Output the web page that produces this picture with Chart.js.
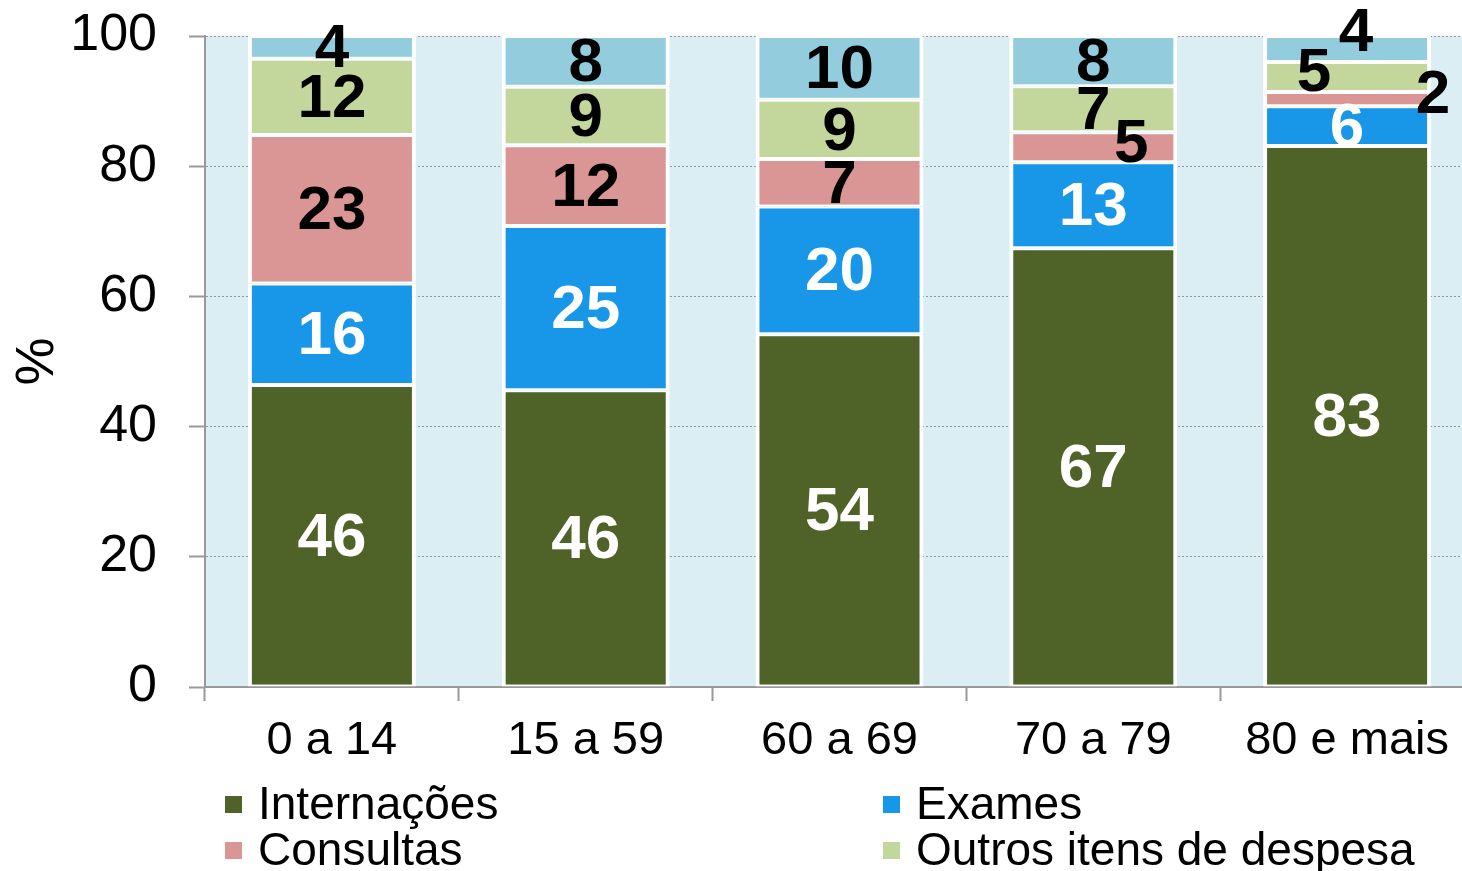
<!DOCTYPE html>
<html lang="pt">
<head>
<meta charset="utf-8">
<title>Despesa por faixa etária</title>
<script src="https://cdn.jsdelivr.net/npm/chart.js@4.4.1/dist/chart.umd.min.js"></script>
<style>
    html, body { margin: 0; padding: 0; background: #fff; overflow: hidden; }
    #wrap { position: relative; width: 1476px; height: 871px; }
</style>
</head>
<body>
<div id="wrap"><canvas id="despesaChart"></canvas></div>
<script>
// Data (percent of expense, each bar sums to 100)
const categories = ['0 a 14', '15 a 59', '60 a 69', '70 a 79', '80 e mais'];
const internacoes = [46.4, 45.6, 54.2, 67.4, 83.1];
const exames = [15.6, 25.2, 19.6, 13.2, 6.1];
const consultas = [22.8, 12.4, 7.3, 4.6, 2.2];
const outrosItens = [11.7, 9.0, 9.1, 7.1, 4.6];
const demais = [3.5, 7.8, 9.8, 7.7, 4.0];
const yTicks = [0, 20, 40, 60, 80, 100];

const FONT = '"Liberation Sans", Arial, sans-serif';

// small nudges for labels that sit beside thin segments
const labelNudge = {
    '2-3': { dx: 38, dy: -5 },
    '2-4': { dx: 86, dy: -6 },
    '3-4': { dx: -33, dy: -6 },
    '4-4': { dx: 9, dy: -18 }
};

const plotBackground = {
    id: 'plotBackground',
    beforeDraw(chart) {
        const { ctx, chartArea: a } = chart;
        ctx.save();
        ctx.fillStyle = '#DAEEF3';
        ctx.fillRect(a.left, a.top, a.right - a.left, a.bottom - a.top);
        ctx.restore();
    }
};

const barLabels = {
    id: 'barLabels',
    afterDatasetsDraw(chart) {
        const ctx = chart.ctx;
        ctx.save();
        ctx.font = 'bold 62px ' + FONT;
        ctx.textAlign = 'center';
        ctx.textBaseline = 'middle';
        chart.data.datasets.forEach((ds, di) => {
            const meta = chart.getDatasetMeta(di);
            meta.data.forEach((bar, i) => {
                const nudge = labelNudge[di + '-' + i] || { dx: 0, dy: 0 };
                ctx.fillStyle = di < 2 ? '#fff' : '#000';
                const y = (bar.y + bar.base) / 2;
                ctx.fillText(String(Math.round(ds.data[i])), bar.x + nudge.dx, y + nudge.dy + 3);
            });
        });
        ctx.restore();
    }
};

// legend in two columns, two rows, like the original
const gridLegend = {
    id: 'gridLegend',
    afterDraw(chart) {
        const ctx = chart.ctx;
        const cols = [225, 883];
        const rows = [804, 850];
        ctx.save();
        ctx.font = '46px ' + FONT;
        ctx.textBaseline = 'middle';
        ctx.textAlign = 'left';
        chart.data.datasets.forEach((ds, i) => {
            if (ds.hideInLegend) return;
            const x = cols[i % 2];
            const y = rows[Math.floor(i / 2)];
            ctx.fillStyle = ds.backgroundColor;
            ctx.fillRect(x, y - 8, 17, 17);
            ctx.fillStyle = '#000';
            ctx.fillText(ds.label, x + 33, y + 2);
        });
        ctx.restore();
    }
};

function makeSet(label, data, color, hide) {
    return {
        label: label,
        data: data,
        backgroundColor: color,
        borderColor: '#fff',
        borderWidth: { top: 2, bottom: 2, left: 4, right: 4 },
        borderSkipped: false,
        barPercentage: 0.662,
        categoryPercentage: 1,
        hideInLegend: !!hide
    };
}

new Chart(document.getElementById('despesaChart'), {
    type: 'bar',
    data: {
        labels: categories,
        datasets: [
            makeSet('Internações', internacoes, '#4F6228'),
            makeSet('Exames', exames, '#1896E8'),
            makeSet('Consultas', consultas, '#D99694'),
            makeSet('Outros itens de despesa', outrosItens, '#C3D69B'),
            makeSet('Demais', demais, '#93CDDD', true)
        ]
    },
    options: {
        responsive: true,
        maintainAspectRatio: false,
        animation: false,
        layout: {
            padding: { top: 36, right: 2, bottom: 110, left: 0 }
        },
        plugins: {
            legend: { display: false },
            tooltip: { enabled: false }
        },
        scales: {
            x: {
                stacked: true,
                grid: {
                    offset: true,
                    drawOnChartArea: false,
                    drawTicks: true,
                    tickLength: 14,
                    tickColor: '#999',
                    tickWidth: 2
                },
                border: { display: true, color: '#999', width: 2 },
                ticks: {
                    color: '#000',
                    padding: 12,
                    maxRotation: 0,
                    font: { family: FONT, size: 47 }
                },
                afterFit(scale) { scale.height = 74; }
            },
            y: {
                stacked: true,
                min: 0,
                max: 100,
                afterBuildTicks(scale) {
                    scale.ticks = yTicks.map(v => ({ value: v }));
                },
                grid: {
                    color: 'rgba(140,140,140,0.9)',
                    lineWidth: 1,
                    drawTicks: true,
                    tickLength: 16,
                    tickColor: '#999',
                    tickWidth: 2
                },
                border: { display: true, color: '#999', width: 2, dash: [2, 2] },
                ticks: {
                    color: '#000',
                    padding: 32,
                    font: { family: FONT, size: 52 }
                },
                title: {
                    display: true,
                    text: '%',
                    color: '#000',
                    padding: { top: 6, bottom: 0 },
                    font: { family: FONT, size: 54 }
                },
                afterFit(scale) {
                    scale.width = 205;
                    scale.paddingTop = 0;
                    scale.paddingBottom = 0;
                }
            }
        }
    },
    plugins: [plotBackground, barLabels, gridLegend]
});
</script>
</body>
</html>
